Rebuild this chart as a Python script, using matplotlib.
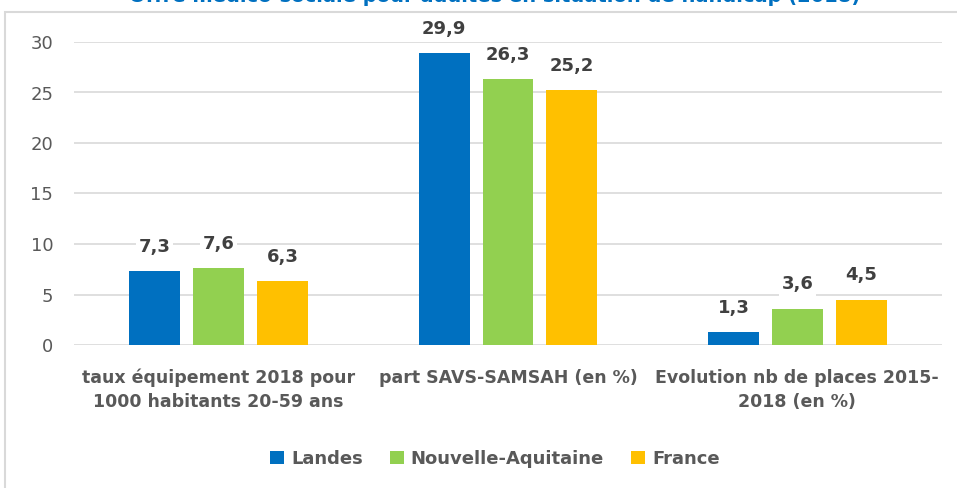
import matplotlib
matplotlib.use("Agg")
import matplotlib.pyplot as plt
from matplotlib.patches import Rectangle
import numpy as np

plt.rcParams['font.family'] = ['DejaVu Sans']

categories = ["taux équipement 2018 pour\n1000 habitants 20-59 ans",
              "part SAVS-SAMSAH (en %)",
              "Evolution nb de places 2015-\n2018 (en %)"]
series = ["Landes", "Nouvelle-Aquitaine", "France"]
landes = [7.3, 28.9, 1.3]
nouvelle_aquitaine = [7.6, 26.3, 3.6]
france = [6.3, 25.2, 4.5]
landes_labels = ["7,3", "29,9", "1,3"]
na_labels = ["7,6", "26,3", "3,6"]
france_labels = ["6,3", "25,2", "4,5"]
yticks = [0, 5, 10, 15, 20, 25, 30]
title = "Offre médico-sociale pour adultes en situation de handicap (2018)"

colors = ["#0070C0", "#92D050", "#FFC000"]

fig = plt.figure(figsize=(9.57, 4.88), dpi=100)
ax = fig.add_axes([74/957, 1-345/488, (942-74)/957, (345-42)/488])

x = np.arange(len(categories))
spacing = 0.221
width = 0.176
data = [landes, nouvelle_aquitaine, france]
labels = [landes_labels, na_labels, france_labels]
for i, (vals, labs, col, name) in enumerate(zip(data, labels, colors, series)):
    pos = x + (i - 1) * spacing
    bars = ax.bar(pos, vals, width=width, color=col, label=name, zorder=3)
    for b, lab in zip(bars, labs):
        ax.text(b.get_x() + b.get_width()/2, b.get_height() + 1.5, lab,
                ha='center', va='bottom', fontsize=13, fontweight='bold',
                color='#404040', zorder=4,
                bbox=dict(facecolor='white', edgecolor='none', pad=2))

ax.set_xlim(-0.5, 2.5)
ax.set_ylim(0, 30)
ax.set_yticks(yticks)
ax.set_yticklabels([str(t) for t in yticks], fontsize=13, color='#595959')
ax.yaxis.grid(True, color='#D9D9D9', linewidth=1.2, zorder=0)
ax.set_axisbelow(True)
ax.tick_params(axis='y', length=0, pad=15)
ax.tick_params(axis='x', length=0, pad=17)
ax.set_xticks(x)
ax.set_xticklabels(categories, fontsize=12.5, fontweight='bold', color='#595959',
                   linespacing=1.45)
for s in ax.spines.values():
    s.set_visible(False)

leg = fig.legend(loc='center', bbox_to_anchor=(495/957, 1-459/488), ncol=3,
                 frameon=False, fontsize=13, handlelength=0.75, handleheight=0.75,
                 handletextpad=0.4, columnspacing=1.5)
for t in leg.get_texts():
    t.set_color('#595959')
    t.set_fontweight('bold')

fig.patches.append(Rectangle((5/957, -0.05), 1.0, 0.05 + 476/488,
                             transform=fig.transFigure, fill=False,
                             edgecolor='#D9D9D9', linewidth=1.5))

fig.text(495/957, 1.0 + 4/488, title, ha='center', va='center', fontsize=14,
         fontweight='bold', color='#0070C0')

fig.savefig("out.png", dpi=100)
